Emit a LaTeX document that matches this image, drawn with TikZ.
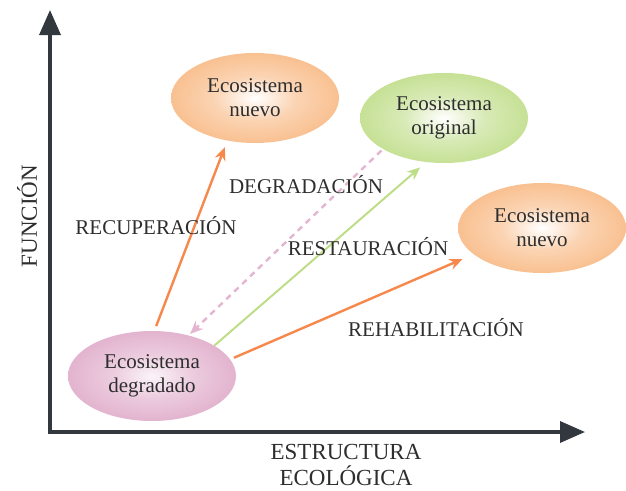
\documentclass[tikz,border=0pt]{standalone}
\usepackage{fontspec}
\setmainfont{Liberation Serif}
\usetikzlibrary{arrows.meta,shapes.geometric}

\definecolor{naranja}{HTML}{F6A058}
\definecolor{verde}{HTML}{A9D15F}
\definecolor{rosa}{HTML}{D48DB6}
\definecolor{texto}{HTML}{2E2E2E}
\definecolor{eje}{HTML}{33383E}
\pgfdeclareradialshading{rnaranja}{\pgfpoint{0bp}{0bp}}{color(0bp)=(white); color(12bp)=(naranja!45!white); color(46bp)=(naranja); color(50bp)=(naranja)}
\pgfdeclareradialshading{rverde}{\pgfpoint{0bp}{0bp}}{color(0bp)=(white); color(12bp)=(verde!45!white); color(46bp)=(verde); color(50bp)=(verde)}
\pgfdeclareradialshading{rrosa}{\pgfpoint{0bp}{0bp}}{color(0bp)=(rosa!10!white); color(12bp)=(rosa!45!white); color(46bp)=(rosa); color(50bp)=(rosa)}

\begin{document}
\begin{tikzpicture}[x=1pt,y=-1pt,
  eco/.style={ellipse, minimum width=168pt, minimum height=90pt, inner sep=0pt, align=center, text=texto, font=\fontsize{21}{24}\selectfont},
  etiqueta/.style={text=texto, font=\fontsize{21}{24}\selectfont, inner sep=0pt},
  flecha/.style={line width=2.4pt, -{Stealth[length=13pt,width=11pt]}}]
\useasboundingbox (0,0) rectangle (626,490);
\coordinate (origen) at (50,432);
\coordinate (arriba) at (50,10);
\coordinate (derecha) at (585,432);
\draw[eje, line width=3.5pt, {Triangle[length=25pt,width=21pt]}-{Triangle[length=25pt,width=21pt]}] (arriba) -- (origen) -- (derecha);

\node[eco, shading=rrosa] (degradado) at (152,376) {Ecosistema\\degradado};
\node[eco, shading=rnaranja] (nuevo) at (255,98) {Ecosistema\\nuevo};
\node[eco, shading=rverde] (original) at (444,118) {Ecosistema\\original};
\node[eco, shading=rnaranja] (nuevob) at (542,228) {Ecosistema\\nuevo};

\draw[flecha, color=naranja!85!red, shorten <=5pt, shorten >=7pt] (degradado.87) -- (nuevo.237);
\draw[flecha, color=rosa!65!white, dashed, dash pattern=on 6pt off 5pt, shorten <=2pt, shorten >=2pt] (original.207) -- (degradado.48);
\draw[flecha, color=verde!75!white, line width=2pt, shorten >=8pt] (degradado.26) -- (original.248);
\draw[flecha, color=naranja!85!red, shorten <=4pt, shorten >=12pt] (degradado.12) -- (nuevob.201);

\node[etiqueta] (recup) at (156,226) {RECUPERACIÓN};
\node[etiqueta] (degrad) at (306,185) {DEGRADACIÓN};
\node[etiqueta] (restau) at (368,247) {RESTAURACIÓN};
\node[etiqueta] (rehab) at (436,328) {REHABILITACIÓN};
\node[etiqueta, font=\fontsize{23}{26}\selectfont, rotate=90] (funcion) at (27,216) {FUNCIÓN};
\node[etiqueta, font=\fontsize{23}{26}\selectfont, align=center] (estructura) at (346,465) {ESTRUCTURA\\ECOLÓGICA};
\end{tikzpicture}
\end{document}
